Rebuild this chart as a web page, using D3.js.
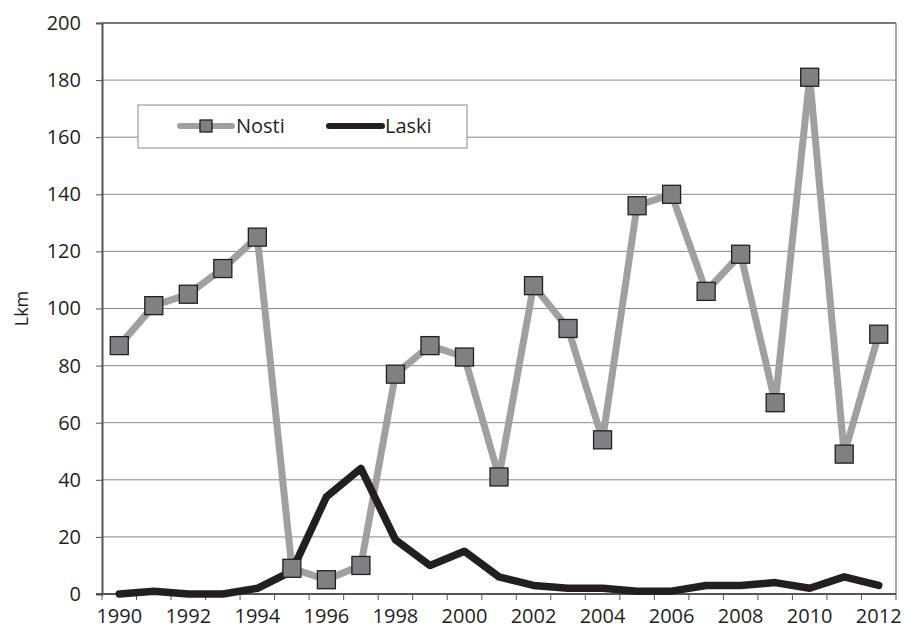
<!DOCTYPE html>
<html><head><meta charset="utf-8">
<script src="https://cdn.jsdelivr.net/npm/d3@7"></script>
<style>body{margin:0;background:#fff}svg{display:block}text{font-family:"Open Sans",sans-serif;fill:#231f20}</style>
</head><body><svg id="c" width="905" height="635"></svg>
<script>
const years = [1990,1991,1992,1993,1994,1995,1996,1997,1998,1999,2000,2001,2002,2003,2004,2005,2006,2007,2008,2009,2010,2011,2012];
const nosti = [87,101,105,114,125,9,5,10,77,87,83,41,108,93,54,136,140,106,119,67,181,49,91];
const laski = [0,1,0,0,2,8,34,44,19,10,15,6,3,2,2,1,1,3,3,4,2,6,3];
const yTicks = [0,20,40,60,80,100,120,140,160,180,200];
const seriesNames = ["Nosti","Laski"];

const svg = d3.select("#c");
const L=102, R=896, T=23, B=594;
const x = d3.scaleBand().domain(years).range([L,R]);
const y = d3.scaleLinear().domain([0,200]).range([B,T]);
const cx = d => x(d)+x.bandwidth()/2;

// gridlines
svg.append("g").selectAll("line").data(yTicks.filter(d=>d>0)).join("line")
  .attr("x1",L).attr("x2",R).attr("y1",d=>y(d)).attr("y2",d=>y(d))
  .attr("stroke",d=>d===200?"#7a7a7a":"#8a8a8a").attr("stroke-width",d=>d===200?2:1);
// right border
svg.append("line").attr("x1",R).attr("x2",R).attr("y1",T).attr("y2",B).attr("stroke","#8a8a8a").attr("stroke-width",1.5);

// y axis
const ya = svg.append("g").attr("transform",`translate(${L},0)`)
  .call(d3.axisLeft(y).tickValues(yTicks).tickSize(6).tickPadding(15));
ya.select(".domain").attr("stroke","#555").attr("stroke-width",2);
ya.selectAll(".tick line").attr("stroke","#555");
ya.selectAll("text").style("font-size","20px").attr("fill","#231f20");

// x axis
const xa = svg.append("g").attr("transform",`translate(0,${B})`);
xa.append("line").attr("x1",L-6).attr("x2",R).attr("stroke","#555").attr("stroke-width",2);
xa.selectAll("line.t").data(years.concat([null])).join("line").attr("class","t")
  .attr("x1",(d,i)=>L+i*x.step()).attr("x2",(d,i)=>L+i*x.step()).attr("y1",0).attr("y2",6)
  .attr("stroke","#555");
xa.selectAll("text").data(years.filter(d=>d%2===0)).join("text")
  .attr("x",cx).attr("y",29).attr("text-anchor","middle").style("font-size","20px").text(d=>d);

// y label
svg.append("text").attr("transform",`translate(28,${(T+B)/2}) rotate(-90)`).attr("text-anchor","middle")
  .style("font-size","18px").text("Lkm");

const line = d3.line().x((d,i)=>cx(years[i])).y(d=>y(d));
svg.append("path").attr("d",line(nosti)).attr("fill","none").attr("stroke","#a0a0a2").attr("stroke-width",7).attr("stroke-linejoin","round");
svg.append("path").attr("d",line(laski)).attr("fill","none").attr("stroke","#231f20").attr("stroke-width",7.5).attr("stroke-linejoin","round").attr("stroke-linecap","round");
const ms=18;
svg.append("g").selectAll("rect").data(nosti).join("rect")
  .attr("x",(d,i)=>cx(years[i])-ms/2).attr("y",d=>y(d)-ms/2).attr("width",ms).attr("height",ms)
  .attr("fill","#808083").attr("stroke","#231f20").attr("stroke-width",1.3);

// legend
const lg = svg.append("g");
lg.append("rect").attr("x",138).attr("y",105).attr("width",329).attr("height",43).attr("fill","#fff").attr("stroke","#8a8a8a").attr("stroke-width",1);
lg.append("line").attr("x1",180).attr("x2",232).attr("y1",126).attr("y2",126).attr("stroke","#a0a0a2").attr("stroke-width",6).attr("stroke-linecap","round");
lg.append("rect").attr("x",200).attr("y",120).attr("width",12).attr("height",12).attr("fill","#808083").attr("stroke","#231f20").attr("stroke-width",1.3);
lg.append("text").attr("x",236).attr("y",133).style("font-size","20px").text(seriesNames[0]);
lg.append("line").attr("x1",329).attr("x2",382).attr("y1",126).attr("y2",126).attr("stroke","#231f20").attr("stroke-width",6).attr("stroke-linecap","round");
lg.append("text").attr("x",385).attr("y",133).style("font-size","20px").text(seriesNames[1]);
</script></body></html>
